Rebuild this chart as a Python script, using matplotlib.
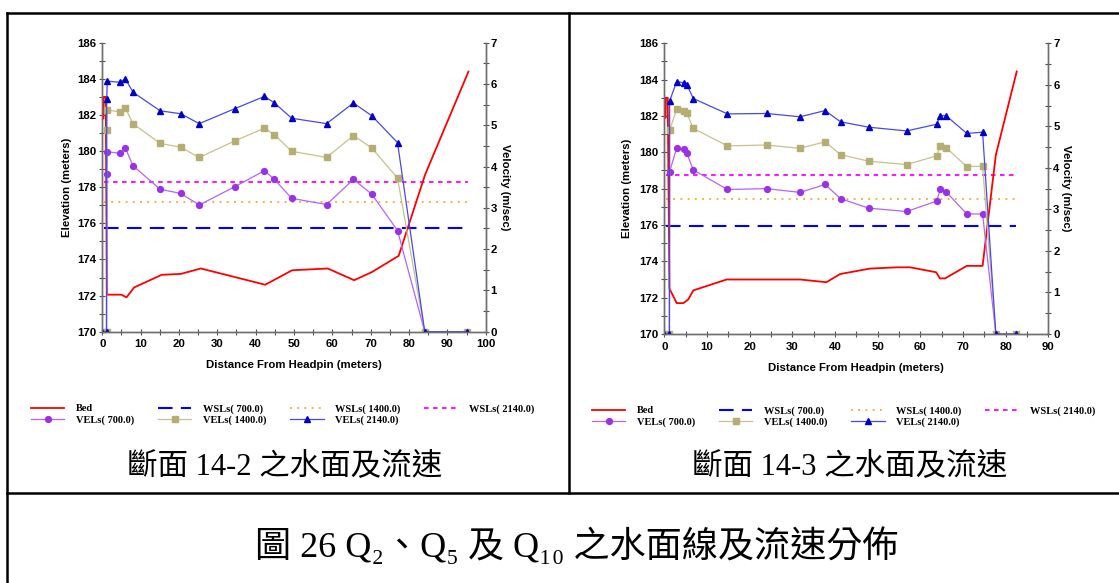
import matplotlib
matplotlib.use("Agg")
import matplotlib.pyplot as plt
from matplotlib.ticker import MultipleLocator

# section 14-2 : bed profile
bed_x_142 = [0, 0.3, 0.35, 0.9, 1.2, 5.0, 6.3, 8.3, 15.5, 20.5, 25.7, 42.5, 49.5, 58.8, 65.7, 70.3, 77.3, 84.2, 95.5]
bed_z_142 = [181.8, 181.8, 183.0, 183.0, 172.05, 172.05, 171.9, 172.45, 173.15, 173.2, 173.5, 172.6, 173.4, 173.5, 172.85, 173.3, 174.2, 178.7, 184.4]
# water surface (700, 1400, 2140 cms)
wsl_x_142 = [0.5, 95.5]
wsl_142 = [175.76, 177.16, 178.31]
# velocities
vel_x_142 = [0, 1.1, 1.15, 1.3, 4.7, 6.0, 8.0, 15.1, 20.4, 25.3, 34.5, 42.3, 44.9, 49.4, 58.5, 65.5, 70.3, 77.0, 84.1, 95.0]
vel700_142 = [0, 0, 3.82, 4.36, 4.32, 4.45, 4.02, 3.45, 3.35, 3.07, 3.51, 3.90, 3.69, 3.23, 3.08, 3.69, 3.33, 2.45, 0, 0]
vel1400_142 = [0, 0, 4.88, 5.37, 5.32, 5.42, 5.04, 4.56, 4.47, 4.22, 4.62, 4.93, 4.77, 4.37, 4.22, 4.75, 4.45, 3.72, 0, 0]
vel2140_142 = [0, 0, 5.63, 6.07, 6.04, 6.13, 5.80, 5.35, 5.28, 5.04, 5.40, 5.70, 5.54, 5.17, 5.04, 5.54, 5.23, 4.58, 0, 0]

# section 14-3
bed_x_143 = [0, 0.3, 0.35, 0.8, 1.2, 2.9, 4.5, 5.6, 6.8, 14.6, 31.8, 38.0, 41.2, 48.2, 54.5, 57.6, 63.7, 64.6, 65.8, 70.9, 74.6, 77.7, 82.6]
bed_z_143 = [181.9, 181.9, 183.0, 183.0, 172.5, 171.7, 171.7, 171.9, 172.4, 173.0, 173.0, 172.85, 173.3, 173.6, 173.67, 173.67, 173.4, 173.06, 173.06, 173.75, 173.75, 179.85, 184.45]
wsl_x_143 = [0.5, 82.5]
wsl_143 = [175.94, 177.43, 178.75]
vel_x_143 = [0, 1.2, 1.25, 2.9, 4.5, 5.3, 6.8, 14.8, 24.0, 31.8, 37.7, 41.3, 47.9, 56.8, 63.8, 64.7, 66.0, 70.9, 74.6, 77.7, 82.5]
vel700_143 = [0, 0, 3.91, 4.48, 4.45, 4.35, 3.95, 3.48, 3.50, 3.41, 3.60, 3.26, 3.03, 2.95, 3.20, 3.48, 3.43, 2.89, 2.89, 0, 0]
vel1400_143 = [0, 0, 4.91, 5.41, 5.37, 5.31, 4.95, 4.53, 4.55, 4.47, 4.63, 4.32, 4.16, 4.08, 4.29, 4.53, 4.49, 4.03, 4.04, 0, 0]
vel2140_143 = [0, 0, 5.61, 6.08, 6.05, 6.00, 5.67, 5.30, 5.31, 5.23, 5.38, 5.11, 4.98, 4.89, 5.05, 5.26, 5.26, 4.83, 4.86, 0, 0]

flows = ["700.0", "1400.0", "2140.0"]
caption_142 = "斷面 14-2 之水面及流速"
caption_143 = "斷面 14-3 之水面及流速"
caption_fig = "圖 26 Q₂、Q₅ 及 Q₁₀ 之水面線及流速分佈"

plt.rcParams['font.family'] = ['Liberation Sans', 'DejaVu Sans']
cjk_fonts = ['Liberation Serif', 'DejaVu Serif', 'Noto Sans CJK TC']

W, H = 1119, 583
fig = plt.figure(figsize=(W / 100, H / 100), dpi=100)

spine_col = '#6e6e6e'


def draw_section(rect, xmax, bed_x, bed_z, wsl_x, wsl, vel_x, vels, ylab_x, vlab_x, xlab_y, leg_xy):
    ax = fig.add_axes(rect)
    ax2 = ax.twinx()

    h_bed, = ax.plot(bed_x, bed_z, color='#ff0000', lw=1.3, zorder=3)
    h_w1, = ax.plot(wsl_x, [wsl[0]] * 2, color='#0000ff', lw=1.5, dashes=(7, 4))
    h_w2, = ax.plot(wsl_x, [wsl[1]] * 2, color='#f0a830', lw=1.3, dashes=(1, 3))
    h_w3, = ax.plot(wsl_x, [wsl[2]] * 2, color='#ff00ff', lw=1.3, dashes=(2.5, 2.5))

    h_v1, = ax2.plot(vel_x, vels[0], color='#b464f5', lw=0.9, marker='o', ms=4.2,
                     mfc='#9a30e8', mec='#9a30e8')
    h_v2, = ax2.plot(vel_x, vels[1], color='#c8c08a', lw=0.9, marker='s', ms=3.8,
                     mfc='#b5ad72', mec='#b5ad72')
    h_v3, = ax2.plot(vel_x, vels[2], color='#4848e8', lw=0.9, marker='^', ms=4.5,
                     mfc='#0000c8', mec='#0000c8')

    ax.set_xlim(0, xmax)
    ax.set_ylim(170, 186)
    ax2.set_ylim(0, 7)
    ax.xaxis.set_major_locator(MultipleLocator(10))
    ax.xaxis.set_minor_locator(MultipleLocator(5))
    ax.yaxis.set_major_locator(MultipleLocator(2))
    ax.yaxis.set_minor_locator(MultipleLocator(1))
    ax2.yaxis.set_major_locator(MultipleLocator(1))
    ax2.yaxis.set_minor_locator(MultipleLocator(0.5))

    for a in (ax, ax2):
        a.spines['top'].set_visible(False)
        for s in ('left', 'right', 'bottom'):
            a.spines[s].set_color(spine_col)
            a.spines[s].set_linewidth(1.0)
        a.tick_params(which='both', direction='inout', length=5, width=0.8, color='#505050',
                      labelsize=8.2, pad=1.5)
        plt.setp(a.get_xticklabels() + a.get_yticklabels(), fontweight='bold')
    ax.tick_params(axis='x', pad=3)
    ax2.tick_params(axis='y', pad=1)

    ax.set_xlabel('Distance From Headpin (meters)', fontsize=8.2, fontweight='bold')
    ax.set_ylabel('Elevation (meters)', fontsize=8.2, fontweight='bold')
    ax2.set_ylabel('Velocity (m/sec)', fontsize=8.2, fontweight='bold', rotation=270)
    ax.xaxis.set_label_coords(0.5, xlab_y)
    ax.yaxis.set_label_coords(ylab_x, 0.5)
    ax2.yaxis.set_label_coords(vlab_x, 0.5)

    handles = [h_bed, h_v1, h_w1, h_v2, h_w2, h_v3, h_w3]
    labels = ['Bed', f'VELs( {flows[0]})', f'WSLs( {flows[0]})', f'VELs( {flows[1]})',
              f'WSLs( {flows[1]})', f'VELs( {flows[2]})', f'WSLs( {flows[2]})']
    fig.legend(handles, labels, ncol=4, loc='upper left', bbox_to_anchor=leg_xy,
               bbox_transform=fig.transFigure, frameon=False, borderpad=0, borderaxespad=0,
               handlelength=3.2, handletextpad=1.1, columnspacing=2.3, labelspacing=0.2,
               prop={'family': 'Liberation Serif', 'weight': 'bold', 'size': 7.5})
    return ax


draw_section([102.3 / W, 1 - 331.7 / H, 383.4 / W, 289 / H], 100,
             bed_x_142, bed_z_142, wsl_x_142, wsl_142, vel_x_142,
             [vel700_142, vel1400_142, vel2140_142], -0.08, 1.064, -0.098,
             (31 / W, 1 - 404 / H))
draw_section([664.3 / W, 1 - 334 / H, 384 / W, 290.7 / H], 90,
             bed_x_143, bed_z_143, wsl_x_143, wsl_143, vel_x_143,
             [vel700_143, vel1400_143, vel2140_143], -0.083, 1.06, -0.1,
             (592 / W, 1 - 406 / H))

# table borders round the figures
lw_tab = 1.8
x_left = 7 / W
y_top = 1 - 12.7 / H
x_div = 569 / W
y_mid = 1 - 493 / H
for xs, ys in [([x_left, 1], [y_top, y_top]),
               ([x_left, x_left], [y_top, 0]),
               ([x_div, x_div], [y_top, y_mid]),
               ([x_left, 1], [y_mid, y_mid])]:
    fig.add_artist(plt.Line2D(xs, ys, transform=fig.transFigure, color='black', lw=lw_tab))

fig.text(285 / W, 1 - 467 / H, caption_142, ha='center', va='center', fontsize=22, family=cjk_fonts)
fig.text(850 / W, 1 - 467 / H, caption_143, ha='center', va='center', fontsize=22, family=cjk_fonts)
fig.text(577 / W, 1 - 546 / H, caption_fig, ha='center', va='center', fontsize=26, family=cjk_fonts)

fig.savefig('out.png', dpi=100)
